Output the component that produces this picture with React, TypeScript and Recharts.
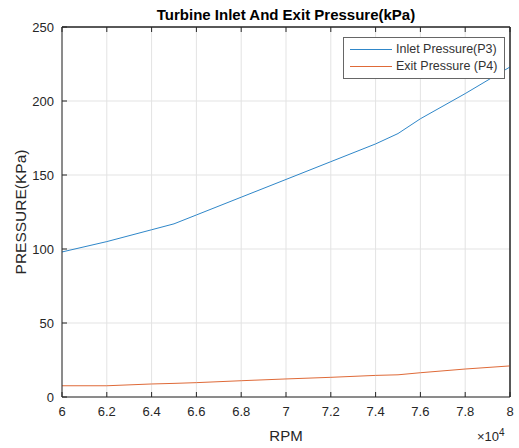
import React from 'react';
import { LineChart, Line, XAxis, YAxis, CartesianGrid, ReferenceLine } from 'recharts';

// RPM samples and pressure readings (kPa)
const rpm = [60000, 62000, 64000, 65000, 66000, 68000, 70000, 72000, 74000, 75000, 76000, 78000, 80000];
const inletPressure = [98, 105, 113, 117, 123, 135, 147, 159, 171, 178, 188, 205, 223];
const exitPressure = [7.6, 7.6, 8.8, 9.2, 9.7, 11, 12.2, 13.3, 14.6, 15, 16.4, 18.9, 21];

const xTicks = [60000, 62000, 64000, 66000, 68000, 70000, 72000, 74000, 76000, 78000, 80000];
const yTicks = [0, 50, 100, 150, 200, 250];

const seriesNames = ['Inlet Pressure(P3)', 'Exit Pressure (P4)'];
const seriesColors = ['#2f87c9', '#df6a38'];

const data = rpm.map((r, i) => ({ rpm: r, p3: inletPressure[i], p4: exitPressure[i] }));

const FONT = '"Liberation Sans", Arial, sans-serif';
const AXIS = '#262626';
const TEXT = '#262626';

// MATLAB style ticks point inward
const BottomTick = ({ x, y, payload }: any) => (
  <g>
    <line x1={x} y1={y} x2={x} y2={y - 5} stroke={AXIS} />
    <text x={x} y={y + 19} textAnchor="middle" fill={TEXT} fontSize={13} fontFamily={FONT}>
      {payload.value / 10000}
    </text>
  </g>
);

const TopTick = ({ x, y }: any) => <line x1={x} y1={y} x2={x} y2={y + 5} stroke={AXIS} />;

const LeftTick = ({ x, y, payload }: any) => (
  <g>
    <line x1={x} y1={y} x2={x + 5} y2={y} stroke={AXIS} />
    <text x={x - 8} y={y + 5} textAnchor="end" fill={TEXT} fontSize={13} fontFamily={FONT}>
      {payload.value}
    </text>
  </g>
);

const RightTick = ({ x, y }: any) => <line x1={x} y1={y} x2={x - 5} y2={y} stroke={AXIS} />;

const LegendBox = () => (
  <div
    style={{
      position: 'absolute',
      left: 343,
      top: 37,
      border: '1px solid #666',
      background: '#fff',
      padding: '3px 7px 3px 6px',
      fontFamily: FONT,
      fontSize: 12.5,
      color: '#333',
      lineHeight: '17px',
    }}
  >
    {seriesNames.map((name, i) => (
      <div key={name} style={{ display: 'flex', alignItems: 'center', whiteSpace: 'nowrap' }}>
        <div style={{ width: 42, height: 1, background: seriesColors[i], marginRight: 4 }} />
        <span>{name}</span>
      </div>
    ))}
  </div>
);

export default function App() {
  return (
    <div style={{ position: 'absolute', left: 0, top: 0, width: 519, height: 448, background: '#fff' }}>
      <div
        style={{
          position: 'absolute',
          left: 62,
          width: 448,
          top: 6,
          textAlign: 'center',
          fontFamily: FONT,
          fontWeight: 'bold',
          fontSize: 15,
          color: '#000',
        }}
      >
        Turbine Inlet And Exit Pressure(kPa)
      </div>
      <div
        style={{
          position: 'absolute',
          left: 21,
          top: 212,
          transform: 'translate(-50%, -50%) rotate(-90deg)',
          fontFamily: FONT,
          fontSize: 15.5,
          color: TEXT,
          whiteSpace: 'nowrap',
        }}
      >
        PRESSURE(KPa)
      </div>
      <div
        style={{
          position: 'absolute',
          left: 62,
          width: 448,
          top: 427,
          textAlign: 'center',
          fontFamily: FONT,
          fontSize: 15,
          color: TEXT,
        }}
      >
        RPM
      </div>
      <div style={{ position: 'absolute', left: 477, top: 427, fontFamily: FONT, fontSize: 13, color: TEXT }}>
        ×10<sup style={{ fontSize: 10 }}>4</sup>
      </div>
      <LineChart width={519} height={448} data={data} margin={{ top: 26, right: 8, left: 0, bottom: 0 }}>
        <CartesianGrid stroke="#e3e3e3" />
        <XAxis
          dataKey="rpm"
          type="number"
          domain={[60000, 80000]}
          ticks={xTicks}
          height={51}
          tickSize={0}
          tickMargin={0}
          tick={<BottomTick />}
          tickLine={false}
          axisLine={{ stroke: AXIS }}
          interval={0}
        />
        <XAxis
          xAxisId="top"
          dataKey="rpm"
          type="number"
          orientation="top"
          domain={[60000, 80000]}
          ticks={xTicks}
          height={1}
          tickSize={0}
          tickMargin={0}
          tick={<TopTick />}
          tickLine={false}
          axisLine={{ stroke: AXIS }}
          interval={0}
        />
        <YAxis
          type="number"
          domain={[0, 250]}
          ticks={yTicks}
          width={62}
          tickSize={0}
          tickMargin={0}
          tick={<LeftTick />}
          tickLine={false}
          axisLine={{ stroke: AXIS }}
          interval={0}
        />
        <YAxis
          yAxisId="right"
          type="number"
          orientation="right"
          domain={[0, 250]}
          ticks={yTicks}
          width={1}
          tickSize={0}
          tickMargin={0}
          tick={<RightTick />}
          tickLine={false}
          axisLine={{ stroke: AXIS }}
          interval={0}
        />
        <ReferenceLine x={80000} stroke={AXIS} ifOverflow="visible" />
        <ReferenceLine y={250} stroke={AXIS} ifOverflow="visible" />
        <Line
          type="linear"
          dataKey="p3"
          name={seriesNames[0]}
          stroke={seriesColors[0]}
          strokeWidth={1}
          dot={false}
          isAnimationActive={false}
        />
        <Line
          type="linear"
          dataKey="p4"
          name={seriesNames[1]}
          stroke={seriesColors[1]}
          strokeWidth={1}
          dot={false}
          isAnimationActive={false}
        />
      </LineChart>
      <LegendBox />
    </div>
  );
}
